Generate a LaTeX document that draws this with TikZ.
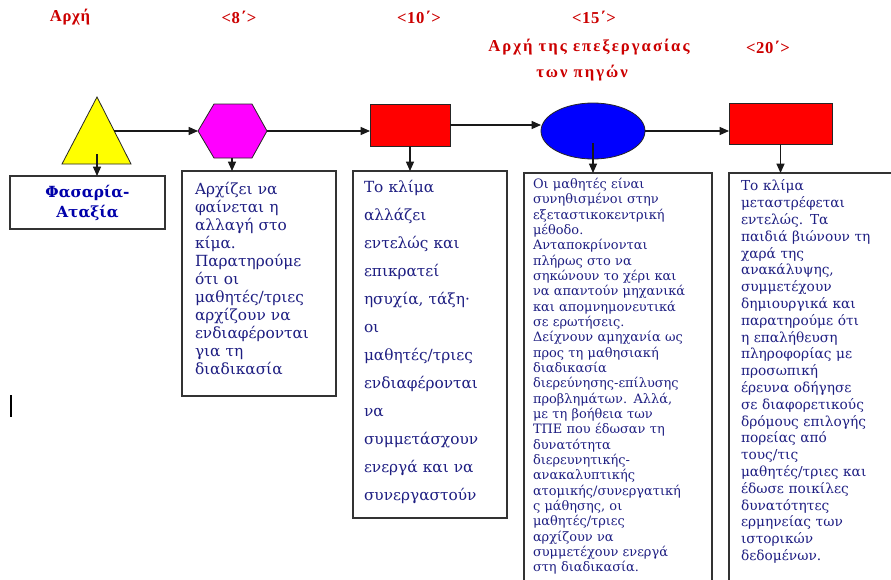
\documentclass[tikz,border=0pt]{standalone}
\usepackage{fontspec}
\setmainfont{DejaVu Serif}
\newfontfamily\labfont[LetterSpace=4]{Liberation Serif}
\newfontfamily\labfontw[LetterSpace=12]{Liberation Serif}
\usetikzlibrary{shapes.geometric,arrows.meta}
\definecolor{lblred}{RGB}{204,0,0}
\definecolor{txtblue}{RGB}{30,30,130}
\definecolor{hdrblue}{RGB}{0,0,170}
\definecolor{cyel}{RGB}{255,255,0}
\definecolor{cmag}{RGB}{255,0,255}
\definecolor{cred}{RGB}{255,0,0}
\definecolor{cblue}{RGB}{0,0,255}
\begin{document}
\begin{tikzpicture}[x=0.75pt,y=-0.75pt,
  every node/.style={inner sep=0pt,outer sep=0pt},
  arr/.style={draw=black!90,line width=0.9pt,-{Triangle[length=7pt,width=6pt]}},
  shp/.style={draw=black!85,line width=0.6pt},
  frame/.style={draw=black!80,line width=1.1pt,fill=white,rectangle},
  lbl/.style={text=lblred,font=\labfont\bfseries\fontsize{12.5}{14}\selectfont},
  lblw/.style={text=lblred,font=\labfontw\bfseries\fontsize{12.5}{14}\selectfont},
  txt/.style={text=txtblue,anchor=north west,align=left,text width=200pt}
]
\useasboundingbox (0,0) rectangle (891,579);
\clip (0,0) rectangle (891,579);
\fill[white] (0,0) rectangle (891,579);

% top labels
\node[lbl] (l1) at (70,17) {Αρχή};
\node[lbl] (l2) at (239,17) {<8΄>};
\node[lbl] (l3) at (419,17) {<10΄>};
\node[lbl] (l4) at (594,17) {<15΄>};
\node[lblw] (l5) at (589,47) {Αρχή της επεξεργασίας};
\node[lblw] (l6) at (582,73) {των πηγών};
\node[lbl] (l7) at (768,47) {<20΄>};

% shapes
\filldraw[shp,fill=cyel] (62,164) -- (97,97) -- (131,164) -- cycle;
\coordinate (triE) at (114,131);
\coordinate (triC) at (97,154);
\filldraw[shp,fill=cmag] (198,131) -- (214,104) -- (252,104) -- (267,131) -- (252,158) -- (214,158) -- cycle;
\coordinate (hexW) at (198,131);
\coordinate (hexE) at (267,131);
\coordinate (hexS) at (232,158);
\node[rectangle,shp,fill=cred,minimum width=60pt,minimum height=31.5pt] (r1) at (410,125) {};
\node[ellipse,shp,fill=cblue,minimum width=78pt,minimum height=42pt] (ell) at (593,131) {};
\coordinate (ellC) at (593,143);
\node[rectangle,shp,fill=cred,minimum width=77.25pt,minimum height=30.75pt] (r2) at (780.5,123.5) {};

% boxes
\node[frame,minimum width=116.25pt,minimum height=39.75pt] (b1) at (87.5,202.5) {};
\node[frame,minimum width=115.5pt,minimum height=168.75pt] (b2) at (259,283.5) {};
\node[frame,minimum width=115.5pt,minimum height=260.25pt] (b3) at (430,344.5) {};
\node[frame,minimum width=141pt,minimum height=320.25pt] (b4) at (618,386.5) {};
\node[frame,minimum width=143.25pt,minimum height=320.25pt] (b5) at (824.5,386.5) {};

% horizontal arrows
\draw[arr] (triE) -- (hexW);
\draw[arr] (hexE) -- (hexE -| r1.west);
\draw[arr] (r1.east) -- (r1.east -| ell.west);
\draw[arr] (ell.east) -- (ell.east -| r2.west);
% vertical arrows
\draw[arr] (triC) -- (triC |- b1.north);
\draw[arr] (hexS) -- (hexS |- b2.north);
\draw[arr] (r1.south) -- (r1.south |- b3.north);
\draw[arr] (ellC) -- (ellC |- b4.north);
\draw[arr] (r2.south) -- (r2.south |- b5.north);

% box texts
\node[text=hdrblue,align=center,font=\bfseries\fontsize{11.5}{15}\selectfont] (t1) at (b1.center) {Φασαρία-\\Αταξία};
\node[txt,font=\fontsize{11.5}{13.5}\selectfont] (t2) at (195,182) {Αρχίζει να\\φαίνεται η\\αλλαγή στο\\κίμα.\\Παρατηρούμε\\ότι οι\\μαθητές/τριες\\αρχίζουν να\\ενδιαφέρονται\\για τη\\διαδικασία};
\node[txt,font=\fontsize{11.5}{21}\selectfont] (t3) at (364,180) {Το κλίμα\\αλλάζει\\εντελώς και\\επικρατεί\\ησυχία, τάξη·\\οι\\μαθητές/τριες\\ενδιαφέρονται\\να\\συμμετάσχουν\\ενεργά και να\\συνεργαστούν};
\node[txt,font=\fontsize{9.7}{11.5}\selectfont] (t4) at (533,178) {Οι μαθητές είναι\\συνηθισμένοι στην\\εξεταστικοκεντρική\\μέθοδο.\\Ανταποκρίνονται\\πλήρως στο να\\σηκώνουν το χέρι και\\να απαντούν μηχανικά\\και απομνημονευτικά\\σε ερωτήσεις.\\Δείχνουν αμηχανία ως\\προς τη μαθησιακή\\διαδικασία\\διερεύνησης-επίλυσης\\προβλημάτων. Αλλά,\\με τη βοήθεια των\\ΤΠΕ που έδωσαν τη\\δυνατότητα\\διερευνητικής-\\ανακαλυπτικής\\ατομικής/συνεργατική\\ς μάθησης, οι\\μαθητές/τριες\\αρχίζουν να\\συμμετέχουν ενεργά\\στη διαδικασία.};
\node[txt,font=\fontsize{10.3}{12.6}\selectfont] (t5) at (741,180) {Το κλίμα\\μεταστρέφεται\\εντελώς. Τα\\παιδιά βιώνουν τη\\χαρά της\\ανακάλυψης,\\συμμετέχουν\\δημιουργικά και\\παρατηρούμε ότι\\η επαλήθευση\\πληροφορίας με\\προσωπική\\έρευνα οδήγησε\\σε διαφορετικούς\\δρόμους επιλογής\\πορείας από\\τους/τις\\μαθητές/τριες και\\έδωσε ποικίλες\\δυνατότητες\\ερμηνείας των\\ιστορικών\\δεδομένων.};

% stray mark
\coordinate (m1) at (11,395);
\coordinate (m2) at (11,417);
\draw[line width=1pt] (m1) -- (m2);
\end{tikzpicture}
\end{document}
